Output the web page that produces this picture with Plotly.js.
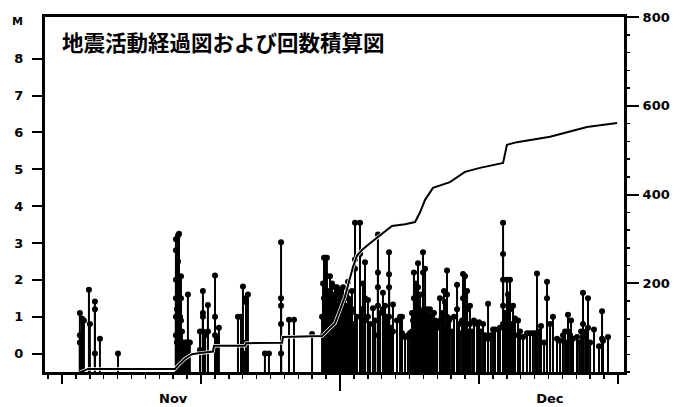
<!DOCTYPE html>
<html>
<head>
<meta charset="utf-8">
<script src="https://cdn.plot.ly/plotly-3.0.1.min.js"></script>
<style>html,body{margin:0;padding:0;background:#fff;}#chart{width:685px;height:407px;}</style>
</head>
<body>
<div id="chart"></div>
<script>
// ---- Data (time in days from the first 10-day tick) ----
const chartTitle = "地震活動経過図および回数積算図";
const monthLabels = ["Nov", "Dec"];
const monthLabelDays = [8.0, 35.1];
const tenDayTicks = [0, 10, 30, 40];
const markTick = [20];
const magTicks = [0, 1, 2, 3, 4, 5, 6, 7, 8];
const countTicks = [200, 400, 600, 800];

// event times (days) and magnitudes
const eqDay = [
 1.29,1.29,1.29,1.44,1.58,1.94,2.01,2.37,2.37,2.37,2.73,4.03,
 8.20,8.20,8.20,8.20,8.20,8.20,8.27,8.27,8.35,8.35,8.35,8.35,8.35,8.42,8.49,8.49,8.56,8.56,8.56,8.63,8.71,8.85,8.99,9.06,9.06,9.20,
 9.93,9.93,10.14,10.14,10.14,10.14,10.29,10.50,10.50,11.01,11.01,11.01,11.15,11.15,11.29,
 12.66,12.88,13.02,13.02,13.17,13.24,13.24,13.38,14.60,14.89,15.76,15.76,15.76,15.76,15.76,16.33,16.69,17.99,
 18.71,18.78,18.78,18.78,18.85,18.85,18.85,18.92,18.92,18.92,18.99,18.99,19.06,19.06,19.06,19.14,19.14,19.21,
 19.28,19.28,19.28,19.35,19.35,19.42,19.42,19.50,19.57,19.57,19.64,19.64,19.71,19.78,19.78,19.78,19.86,19.93,
 20.00,20.00,20.07,20.07,20.14,20.22,20.22,20.29,20.36,20.36,20.43,20.50,20.58,20.58,20.58,20.65,20.72,20.72,20.79,20.86,20.86,
 20.94,21.08,21.08,21.08,21.22,21.44,21.44,21.58,21.65,21.80,21.80,21.80,22.01,22.01,22.16,22.37,22.52,
 22.73,22.73,22.73,22.73,22.73,22.88,23.09,23.09,23.24,23.24,23.38,23.53,23.53,23.53,23.53,23.67,23.81,23.81,
 24.10,24.32,24.46,24.46,24.68,24.89,25.04,25.18,25.18,25.25,25.32,25.32,25.32,25.40,25.47,25.47,25.54,
 25.61,25.61,25.61,25.68,25.76,25.76,25.83,25.90,25.97,25.97,25.97,26.04,26.12,26.12,26.19,26.26,26.26,26.33,26.40,26.47,26.47,
 26.55,26.62,26.69,26.76,26.83,26.91,26.98,27.19,27.19,27.34,27.48,27.55,27.55,27.70,27.70,27.70,27.84,27.91,28.06,28.20,28.42,28.42,
 28.56,28.63,28.78,28.85,28.85,28.99,28.99,28.99,29.14,29.14,29.21,29.35,29.35,29.50,29.64,29.86,30.00,30.14,30.29,30.43,
 30.65,30.65,30.86,31.01,31.15,31.37,31.51,31.73,31.73,31.73,31.73,31.73,31.87,32.01,32.01,32.09,32.23,32.23,32.37,32.45,32.45,
 32.59,32.81,32.81,32.95,33.17,33.45,33.67,33.88,34.03,34.17,34.32,34.46,34.68,34.89,34.89,35.11,35.32,35.61,35.83,
 36.04,36.19,36.26,36.40,36.40,36.55,36.62,36.76,37.05,37.20,37.34,37.48,37.48,37.63,37.70,37.84,37.84,37.99,38.27,38.63,
 38.85,38.85,38.92,39.28
];
const eqMag = [
 1.1,0.5,0.3,0.95,0.9,1.73,0.8,1.41,1.2,0.0,0.4,0.0,
 3.1,2.8,2.0,1.5,1.0,0.5,1.2,0.3,3.2,2.5,1.8,1.3,0.8,3.25,1.0,0.2,2.1,1.5,0.9,0.6,0.3,0.3,0.3,1.6,0.3,0.3,
 0.6,0.1,1.7,1.1,1.0,0.6,0.5,1.32,0.6,2.12,1.0,0.5,0.4,0.3,0.7,
 1.0,1.0,1.82,0.3,0.0,1.4,1.5,1.6,0.0,0.0,3.02,1.5,1.3,0.8,0.0,0.92,0.92,0.53,
 1.0,1.9,1.0,0.5,2.6,1.5,0.8,2.6,1.9,1.2,1.3,0.6,2.6,2.1,1.4,1.7,0.9,1.2,
 2.1,1.4,0.7,1.5,1.0,1.9,1.2,0.9,1.6,1.3,1.8,0.8,1.1,1.8,1.0,0.4,1.3,1.65,
 1.0,0.5,1.7,1.2,0.9,1.8,1.4,1.2,1.5,0.8,1.0,1.3,1.95,1.5,1.0,0.9,1.4,0.7,1.1,1.7,1.2,
 0.8,3.55,2.55,2.3,1.0,3.55,2.7,1.2,1.9,2.48,1.5,0.9,1.45,1.0,0.8,1.23,0.9,
 3.23,2.2,1.8,1.3,0.5,1.1,1.65,1.2,1.3,0.6,1.0,2.75,2.15,1.8,1.0,0.7,1.33,0.6,
 0.9,1.0,1.0,0.55,0.45,0.5,0.56,1.1,0.6,0.9,2.2,1.5,0.8,1.0,1.9,1.3,0.7,
 2.45,1.8,1.2,1.0,1.6,0.8,1.1,0.9,2.75,2.2,1.6,1.2,2.3,1.0,1.1,1.2,0.7,0.9,1.0,1.2,0.5,
 1.0,0.8,0.6,1.1,0.9,0.8,0.7,1.5,0.9,1.1,1.7,1.4,0.7,2.25,1.6,1.0,0.9,0.95,0.6,1.0,1.87,1.2,
 0.8,0.55,0.9,2.16,1.5,2.1,1.6,1.0,1.7,1.2,0.6,1.3,0.8,0.6,0.9,0.8,0.85,0.6,0.8,0.5,
 1.35,0.4,0.5,0.65,0.65,0.65,0.7,3.55,2.7,2.0,1.3,0.8,1.1,2.0,0.9,1.6,2.0,1.2,0.8,1.3,0.6,
 0.95,0.9,0.5,0.6,0.45,0.55,0.55,0.55,0.55,2.17,0.6,0.75,0.3,1.95,1.5,0.8,1.0,0.4,0.35,
 0.5,0.6,0.3,1.05,0.6,0.5,0.9,0.4,0.45,0.3,0.6,1.65,0.8,0.5,0.6,1.5,0.7,0.3,0.65,0.2,
 1.15,0.4,0.35,0.45
];

// cumulative number of events (right axis)
const cumDay = [1.29,1.44,1.87,8.13,8.35,8.85,9.35,9.93,10.86,10.94,13.17,13.24,15.83,15.90,18.71,19.64,20.36,20.94,21.22,21.58,22.16,22.73,23.74,24.68,25.40,25.76,26.12,26.69,27.91,28.99,30.07,31.73,32.01,32.73,35.11,37.77,39.93];
const cumCount = [0,1,7,7,15,30,40,43,46,59,59,65,66,79,81,110,170,237,262,275,290,304,329,333,338,360,388,415,428,451,460,471,512,518,530,552,561];

// ---- Build traces ----
const BASE = -0.5;
const stemX = [], stemY = [];
for (let i = 0; i < eqDay.length; i++) {
  stemX.push(eqDay[i], eqDay[i], null);
  stemY.push(BASE, eqMag[i], null);
}
const xr = [-1.22, 40.43];
const tickFont = {family: "DejaVu Sans", size: 13, color: "#000", weight: "bold"};

const traces = [
  {x: stemX, y: stemY, mode: "lines", line: {color: "#000", width: 2}, xaxis: "x", yaxis: "y", hoverinfo: "skip"},
  {x: eqDay, y: eqMag, mode: "markers", marker: {color: "#000", size: 6}, xaxis: "x", yaxis: "y", hoverinfo: "skip"},
  {x: cumDay, y: cumCount, mode: "lines", line: {color: "#fff", width: 3.5}, xaxis: "x", yaxis: "y2", hoverinfo: "skip"},
  {x: cumDay, y: cumCount, mode: "lines", line: {color: "#000", width: 2}, xaxis: "x", yaxis: "y2", hoverinfo: "skip"},
  {x: [], y: [], xaxis: "x2", yaxis: "y"},
  {x: [], y: [], xaxis: "x3", yaxis: "y"}
];

const layout = {
  width: 685, height: 407,
  margin: {l: 45, r: 61, t: 17, b: 35, pad: 0},
  paper_bgcolor: "#fff", plot_bgcolor: "#fff",
  showlegend: false,
  font: {family: "DejaVu Sans", color: "#000"},
  xaxis: {
    range: xr, showgrid: false, zeroline: false,
    showline: true, linecolor: "#000", linewidth: 3, mirror: true,
    tickmode: "array", tickvals: tenDayTicks, ticks: "outside", ticklen: 9, tickwidth: 2, tickcolor: "#000",
    showticklabels: false,
    minor: {ticks: "outside", ticklen: 4, tickwidth: 1.5, tickcolor: "#000", dtick: 1, tick0: 0, showgrid: false}
  },
  xaxis2: {
    overlaying: "x", anchor: "y", side: "bottom", range: xr,
    showgrid: false, zeroline: false, showline: false,
    tickmode: "array", tickvals: markTick, ticks: "outside", ticklen: 18, tickwidth: 2.5, tickcolor: "#000",
    showticklabels: false
  },
  xaxis3: {
    overlaying: "x", anchor: "y", side: "bottom", range: xr,
    showgrid: false, zeroline: false, showline: false,
    tickmode: "array", tickvals: monthLabelDays, ticktext: monthLabels,
    ticks: "outside", ticklen: 14, tickcolor: "rgba(0,0,0,0)",
    tickfont: tickFont
  },
  yaxis: {
    range: [-0.5, 9.13], showgrid: false, zeroline: false,
    showline: true, linecolor: "#000", linewidth: 3,
    tickmode: "array", tickvals: magTicks, ticks: "outside", ticklen: 10, tickwidth: 2, tickcolor: "#000",
    tickfont: tickFont, ticklabelstandoff: 6
  },
  yaxis2: {
    overlaying: "y", side: "right", anchor: "x", range: [0, 800],
    showgrid: false, zeroline: false,
    showline: true, linecolor: "#000", linewidth: 3,
    tickmode: "array", tickvals: countTicks, ticks: "outside", ticklen: 12, tickwidth: 2, tickcolor: "#000",
    tickfont: tickFont, ticklabelstandoff: 1,
    minor: {ticks: "outside", ticklen: 3, tickwidth: 1.5, tickcolor: "#000", dtick: 40, tick0: 0, showgrid: false}
  },
  annotations: [
    {text: chartTitle, xref: "paper", yref: "paper", x: 0.026, y: 0.93, xanchor: "left", yanchor: "middle",
     showarrow: false, font: {family: "Noto Sans CJK JP", size: 21.5, color: "#000", weight: "bold"}},
    {text: "M", xref: "paper", yref: "y", x: -0.048, y: 9.0, xanchor: "center", yanchor: "middle",
     showarrow: false, font: {family: "DejaVu Sans", size: 11, color: "#000", weight: "bold"}}
  ]
};

Plotly.newPlot("chart", traces, layout, {staticPlot: true, displayModeBar: false});
</script>
</body>
</html>
